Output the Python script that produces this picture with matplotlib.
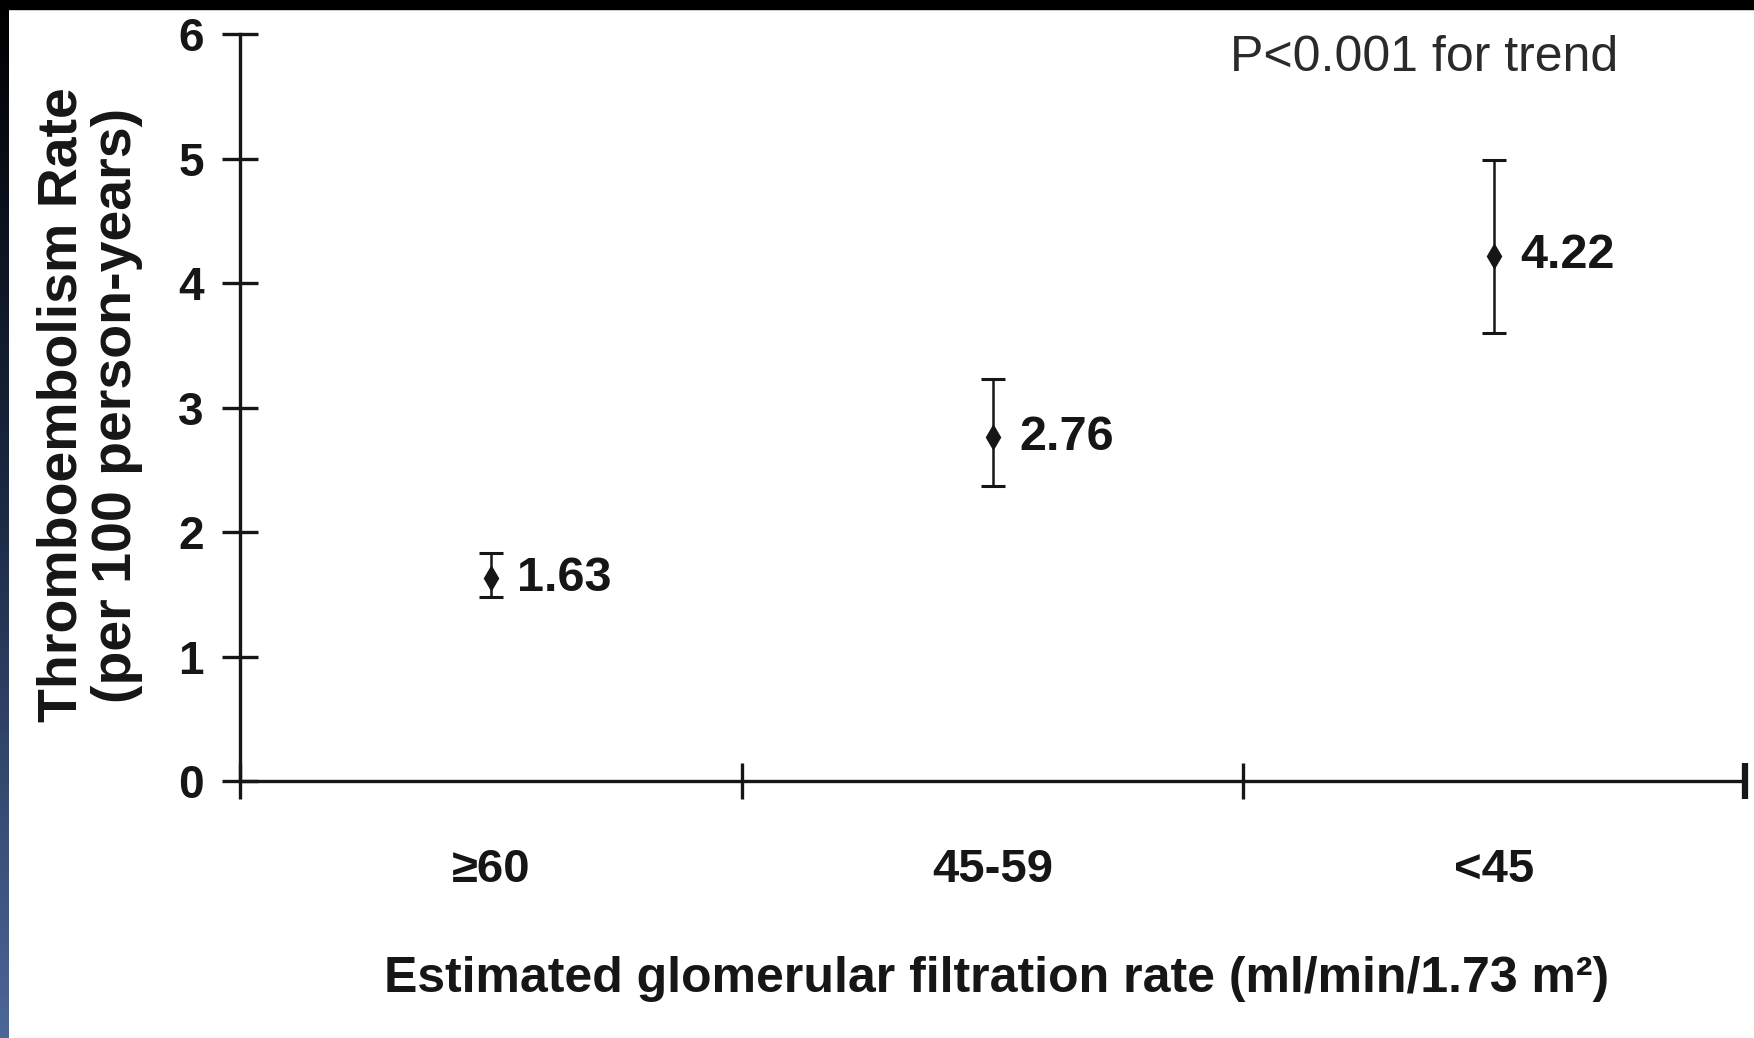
import numpy as np
import matplotlib
matplotlib.use("Agg")
import matplotlib.pyplot as plt
from matplotlib.patches import Rectangle
from matplotlib.colors import LinearSegmentedColormap

plt.rcParams["font.family"] = ["Liberation Sans", "DejaVu Sans"]

# eGFR groups and thromboembolism rates with 95% CI
groups = ["\u226560", "45-59", "<45"]
rates = [1.63, 2.76, 4.22]
ci_low = [1.48, 2.37, 3.60]
ci_high = [1.83, 3.23, 4.99]

rates = np.array(rates)
err = np.vstack([rates - np.array(ci_low), np.array(ci_high) - rates])
xpos = np.arange(len(groups)) + 0.5
ink = "#161616"

fig = plt.figure(figsize=(17.54, 10.38), dpi=100)
fig.patch.set_facecolor("white")
ax = fig.add_axes([0.1368, 0.2476, 0.8581, 0.7196])

ax.errorbar(xpos, rates, yerr=err, fmt="d", color=ink, ms=12.5,
            elinewidth=1.8, capsize=8.5, capthick=2.2, zorder=3)
for x, r in zip(xpos, rates):
    ax.annotate(f"{r:.2f}", (x, r), xytext=(19, 0), textcoords="offset points",
                ha="left", va="center", fontsize=35, fontweight="bold", color=ink)

ax.set_xlim(0, 3)
ax.set_ylim(0, 6)
for side in ("top", "right"):
    ax.spines[side].set_visible(False)
for side in ("left", "bottom"):
    ax.spines[side].set_linewidth(2.4)
    ax.spines[side].set_color(ink)

ax.set_yticks(range(7))
ax.set_xticks(range(4))
ax.set_xticklabels([])
ax.set_xticks(xpos, minor=True)
ax.set_xticklabels(groups, minor=True)
ax.tick_params(axis="both", which="major", direction="inout", length=26,
               width=2.4, color=ink)
ax.tick_params(axis="y", labelsize=33, pad=13, labelcolor=ink)
ax.tick_params(axis="x", which="minor", length=0, pad=48, labelsize=34,
               labelcolor=ink)
for lab in ax.get_yticklabels() + ax.get_xticklabels(minor=True):
    lab.set_fontweight("bold")
# heavier end tick on the x axis
ax.xaxis.get_major_ticks()[-1].tick1line.set_markeredgewidth(4.5)
ax.xaxis.get_major_ticks()[-1].tick1line.set_color("black")

ax.text(0.916, 0.968, "P<0.001 for trend", transform=ax.transAxes,
        ha="right", va="center", fontsize=36, color="#2a2a2a")

fig.text(90 / 1754, 1 - 405 / 1038,
         "Thromboembolism Rate\n(per 100 person-years)",
         rotation=90, ha="center", va="center", multialignment="center",
         fontsize=40, fontweight="bold", color=ink, linespacing=1.06)
fig.text(997 / 1754, 1 - 979 / 1038,
         "Estimated glomerular filtration rate (ml/min/1.73 m\u00b2)",
         ha="center", va="center", fontsize=36, fontweight="bold", color=ink)

# dark frame along the top and left edges
fig.patches.append(Rectangle((0, 1 - 9 / 1038), 1, 9 / 1038,
                             transform=fig.transFigure, color="black", zorder=5))
edge = fig.add_axes([0, 0, 9 / 1754, 1])
grad = np.linspace(0, 1, 256).reshape(-1, 1)
edge_cmap = LinearSegmentedColormap.from_list("edge", ["#4d6699", "#1c2a45", "#000000"])
edge.imshow(grad, cmap=edge_cmap, aspect="auto", origin="lower")
edge.set_axis_off()

fig.savefig("out.png", dpi=100)
